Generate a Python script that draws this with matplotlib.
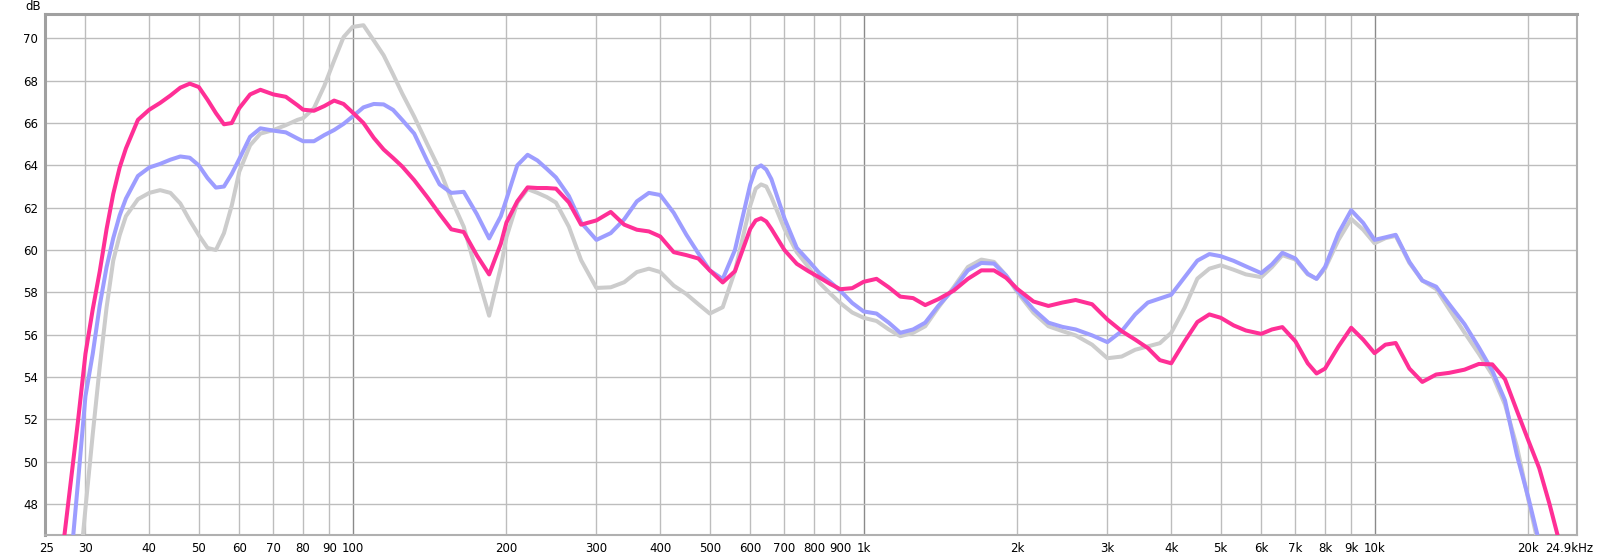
import matplotlib
matplotlib.use("Agg")
import matplotlib.pyplot as plt
from matplotlib.transforms import ScaledTranslation

freq = [27, 28, 29, 30, 31, 32, 33, 34, 35, 36, 38, 40, 42, 44, 46, 48, 50, 52, 54, 56,
        58, 60, 63, 66, 70, 74, 78, 80, 84, 88, 92, 96, 100, 105, 110, 115, 120, 125, 132, 140,
        148, 156, 165, 175, 185, 195, 200, 210, 220, 230, 240, 250, 265, 280, 300, 320, 340, 360, 380, 400,
        425, 450, 475, 500, 530, 560, 600, 615, 630, 645, 660, 700, 740, 780, 820, 860, 900, 950, 1000, 1060, 1120, 1180,
        1250, 1320, 1400, 1500, 1600, 1700, 1800, 1900, 2000, 2150, 2300, 2450, 2600, 2800, 3000, 3200, 3400, 3600, 3800, 4000,
        4250, 4500, 4750, 5000, 5300, 5600, 6000, 6300, 6600, 7000, 7400, 7700, 8000, 8500, 9000, 9500, 10000, 10500, 11000, 11700,
        12400, 13200, 14000, 15000, 16000, 17000, 18000, 19000, 20000, 21000, 22000, 23000, 24000, 24900]

gray_db = [40.0, 42.0, 44.0, 47.8, 51.3, 54.5, 57.3, 59.5, 60.7, 61.6, 62.4, 62.7, 62.83, 62.7, 62.2, 61.4, 60.7, 60.1, 60.0, 60.8,
           62.1, 63.7, 64.95, 65.5, 65.67, 65.9, 66.15, 66.23, 66.7, 67.75, 68.95, 70.06, 70.54, 70.62, 69.9, 69.2, 68.3, 67.4, 66.3, 65.0,
           63.8, 62.4, 61.1, 58.9, 56.9, 59.2, 60.6, 62.24, 62.88, 62.7, 62.5, 62.24, 61.1, 59.52, 58.21, 58.24, 58.48, 58.96, 59.12, 58.96,
           58.32, 57.92, 57.44, 57.0, 57.3, 59.0, 62.1, 62.9, 63.1, 63.0, 62.5, 61.0, 59.9, 59.2, 58.45, 57.95, 57.5, 57.05, 56.8, 56.65, 56.25, 55.93,
           56.09, 56.4, 57.28, 58.24, 59.2, 59.55, 59.44, 58.8, 58.0, 57.04, 56.4, 56.17, 55.97, 55.53, 54.89, 54.97, 55.29, 55.45, 55.6, 56.09,
           57.28, 58.65, 59.12, 59.28, 59.07, 58.85, 58.72, 59.2, 59.76, 59.55, 58.85, 58.64, 59.12, 60.48, 61.47, 60.96, 60.32, 60.56, 60.67, 59.39,
           58.56, 58.16, 57.2, 56.1, 55.1, 54.1, 52.7, 50.7, 48.2, 45.9, 43.5, 41.5, 39.8, 38.5]

blue_db = [42.5, 44.9, 49.0, 53.1, 55.1, 57.4, 59.2, 60.56, 61.64, 62.43, 63.5, 63.9, 64.07, 64.27, 64.42, 64.36, 64.0, 63.4, 62.95, 63.0,
           63.6, 64.3, 65.35, 65.75, 65.64, 65.56, 65.27, 65.14, 65.14, 65.43, 65.67, 65.96, 66.31, 66.74, 66.9, 66.88, 66.62, 66.15, 65.5, 64.2,
           63.1, 62.7, 62.75, 61.7, 60.55, 61.6, 62.4, 64.0, 64.5, 64.23, 63.83, 63.43, 62.55, 61.3, 60.48, 60.8, 61.45, 62.3, 62.7, 62.6,
           61.76, 60.72, 59.84, 59.04, 58.63, 60.0, 63.1, 63.85, 64.0, 63.8, 63.35, 61.5, 60.1, 59.5, 58.9, 58.5, 58.08, 57.5, 57.1, 57.0, 56.57, 56.09,
           56.25, 56.57, 57.36, 58.16, 59.04, 59.39, 59.36, 58.8, 58.08, 57.2, 56.57, 56.37, 56.25, 55.97, 55.65, 56.17, 56.96, 57.52, 57.71, 57.89,
           58.72, 59.5, 59.81, 59.71, 59.49, 59.23, 58.91, 59.33, 59.87, 59.6, 58.88, 58.64, 59.2, 60.8, 61.88, 61.28, 60.48, 60.6, 60.72, 59.44,
           58.56, 58.27, 57.44, 56.5, 55.4, 54.3, 52.9, 50.3, 48.3, 46.2, 44.3, 42.5, 41.0, 40.0]

pink_db = [45.6, 48.8, 51.9, 55.1, 57.2, 59.0, 61.0, 62.65, 63.9, 64.8, 66.15, 66.63, 66.95, 67.3, 67.67, 67.86, 67.7, 67.1, 66.47, 65.94,
           66.0, 66.7, 67.35, 67.57, 67.35, 67.24, 66.84, 66.63, 66.58, 66.8, 67.06, 66.9, 66.5, 66.0, 65.3, 64.75, 64.35, 63.95, 63.3, 62.5,
           61.7, 60.98, 60.85, 59.75, 58.85, 60.3, 61.3, 62.3, 62.96, 62.93, 62.93, 62.9, 62.25, 61.2, 61.4, 61.8, 61.2, 60.96, 60.88, 60.64,
           59.9, 59.76, 59.6, 59.04, 58.47, 59.0, 61.0, 61.4, 61.5, 61.35, 61.0, 60.0, 59.35, 59.0, 58.7, 58.4, 58.15, 58.2, 58.5, 58.64, 58.24, 57.8,
           57.73, 57.4, 57.68, 58.08, 58.64, 59.04, 59.04, 58.69, 58.16, 57.57, 57.36, 57.52, 57.64, 57.44, 56.72, 56.17, 55.77, 55.37, 54.8, 54.65,
           55.69, 56.6, 56.96, 56.8, 56.44, 56.2, 56.04, 56.25, 56.36, 55.69, 54.65, 54.17, 54.4, 55.45, 56.33, 55.77, 55.13, 55.53, 55.61, 54.4,
           53.77, 54.12, 54.2, 54.35, 54.62, 54.6, 53.9, 52.4, 51.0, 49.7, 48.0, 46.2, 44.5, 43.0]

x_ticks = [25, 30, 40, 50, 60, 70, 80, 90, 100, 200, 300, 400, 500, 600, 700, 800, 900, 1000,
           2000, 3000, 4000, 5000, 6000, 7000, 8000, 9000, 10000, 20000, 24900]
x_labels = ["25", "30", "40", "50", "60", "70", "80", "90", "100", "200", "300", "400", "500", "600",
            "700", "800", "900", "1k", "2k", "3k", "4k", "5k", "6k", "7k", "8k", "9k", "10k", "20k", "24.9kHz"]
y_ticks = [48, 50, 52, 54, 56, 58, 60, 62, 64, 66, 68, 70]

fig = plt.figure(figsize=(16, 5.57), dpi=100)
ax = fig.add_axes([45 / 1600, 1 - 535 / 557, (1577 - 45) / 1600, (535 - 14) / 557])
ax.set_xscale("log")
ax.set_xlim(25, 24900)
ax.set_ylim(46.54, 71.15)

# grid
for f in x_ticks[1:-1]:
    major = f in (100, 1000, 10000)
    ax.axvline(f, color="#8a8a8a" if major else "#bdbdbd", lw=1.0, zorder=1)
for y in y_ticks:
    ax.axhline(y, color="#bdbdbd", lw=1.0, zorder=1)

lw = 2.9
common = dict(lw=lw, solid_capstyle="round", solid_joinstyle="round")
ax.plot(freq, gray_db, color="#cccccc", zorder=3, **common)
ax.plot(freq, blue_db, color="#9d9dff", zorder=4, **common)
ax.plot(freq, pink_db, color="#ff2f96", zorder=5, **common)

ax.set_xticks(x_ticks)
ax.set_xticklabels(x_labels)
ax.xaxis.set_minor_locator(matplotlib.ticker.NullLocator())
ax.set_yticks(y_ticks)
ax.set_yticklabels([str(v) for v in y_ticks])
ax.tick_params(axis="both", length=0, labelsize=8.5, colors="black")
ax.tick_params(axis="x", pad=5)
ax.tick_params(axis="y", pad=5)

lbls = ax.get_xticklabels()
lbls[-1].set_transform(lbls[-1].get_transform() + ScaledTranslation(-8 / 100, 0, fig.dpi_scale_trans))
lbls[0].set_transform(lbls[0].get_transform() + ScaledTranslation(2 / 100, 0, fig.dpi_scale_trans))

for side in ("right", "bottom"):
    ax.spines[side].set_color("#b0b0b0")
    ax.spines[side].set_linewidth(1.5)
for side in ("left", "top"):
    ax.spines[side].set_color("#a0a0a0")
    ax.spines[side].set_linewidth(2.2)

fig.text(33 / 1600, 1 - 6 / 557, "dB", fontsize=8.5, ha="center", va="center")

fig.savefig("out.png", dpi=100, facecolor="white")
